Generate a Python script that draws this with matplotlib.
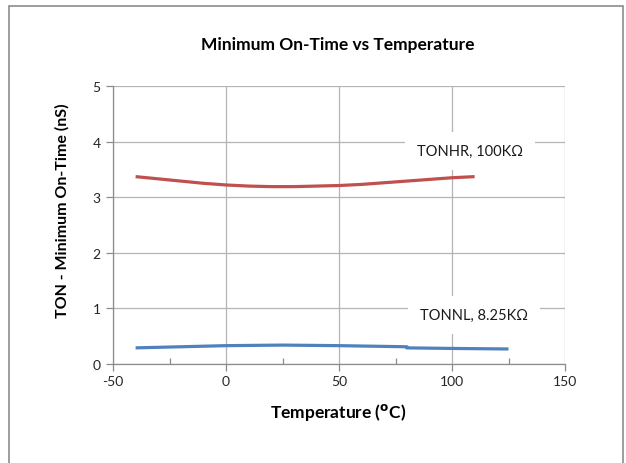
"""minimum on-time vs temperature"""

import numpy as np
import matplotlib
matplotlib.use("Agg")
import matplotlib.pyplot as plt
from matplotlib.patches import Rectangle
from matplotlib.ticker import MultipleLocator

plt.rcParams['font.family'] = ['Lato', 'DejaVu Sans']
plt.rcParams['axes.unicode_minus'] = False

#==== data ====
temp_hr = [-40, -30, -20, -10, 0, 10, 20, 30, 40, 50, 60, 70, 80, 90, 100, 110]
ton_hr  = [3.37, 3.33, 3.29, 3.25, 3.22, 3.20, 3.19, 3.19, 3.20, 3.21, 3.23, 3.26, 3.29, 3.32, 3.35, 3.37]

temp_nl = [-40, -20, 0, 25, 50, 80, 80, 100, 125]
ton_nl  = [0.29, 0.31, 0.33, 0.34, 0.33, 0.31, 0.29, 0.28, 0.27]

label_hr = 'TONHR, 100KΩ'
label_nl = 'TONNL, 8.25KΩ'

fig = plt.figure(figsize=(6.26, 4.64), dpi=100)
ax = fig.add_axes([113/626, 1-365/464, 452/626, 278/464])

#=== outer chart frame ===
fig.patches.append(Rectangle((9/626, -0.02), 614/626, 1.0-7/464+0.02,
                             transform=fig.transFigure, fill=False,
                             edgecolor='#8c8c8c', linewidth=1.2))

ax.plot(temp_hr, ton_hr, color='#C0504D', lw=2.3, solid_capstyle='butt', zorder=3)
ax.plot(temp_nl, ton_nl, color='#4F81BD', lw=2.3, solid_capstyle='butt', zorder=3)

ax.set_xlim(-50, 150)
ax.set_ylim(0, 5)
ax.xaxis.set_major_locator(MultipleLocator(50))
ax.xaxis.set_minor_locator(MultipleLocator(25))
ax.yaxis.set_major_locator(MultipleLocator(1))
ax.grid(True, which='major', color='#b4b4b4', lw=0.9)
ax.set_axisbelow(True)

for s in ['top', 'right']:
    ax.spines[s].set_visible(False)
for s in ['left', 'bottom']:
    ax.spines[s].set_color('#8c8c8c')
    ax.spines[s].set_linewidth(0.9)

ax.tick_params(axis='both', which='major', length=5, width=0.9, color='#8c8c8c',
               labelsize=10, labelcolor='#262626', direction='out')
ax.tick_params(axis='x', which='minor', length=4, width=0.9, color='#8c8c8c', direction='in')
ax.tick_params(axis='y', pad=4)
ax.tick_params(axis='x', pad=3)

ax.text(84.5, 3.83, label_hr, fontsize=10.5, va='center', ha='left', color='#1a1a1a',
        bbox=dict(boxstyle='square,pad=0.8', fc='white', ec='none'), zorder=2)
ax.text(85.8, 0.88, label_nl, fontsize=10.5, va='center', ha='left', color='#1a1a1a',
        bbox=dict(boxstyle='square,pad=0.8', fc='white', ec='none'), zorder=2)

fig.text(338/626, 1-45/464, 'Minimum On-Time vs Temperature', fontsize=12.5,
         fontweight='bold', ha='center', va='center')
fig.text(338/626, 1-413/464, 'Temperature ($^{\\mathbf{o}}$C)', fontsize=12.5,
         fontweight='bold', ha='center', va='center')
fig.text(62/626, 1-211/464, 'TON - Minimum On-Time (nS)', fontsize=11.5,
         fontweight='bold', ha='center', va='center', rotation=90)

fig.savefig('out.png', dpi=100)
